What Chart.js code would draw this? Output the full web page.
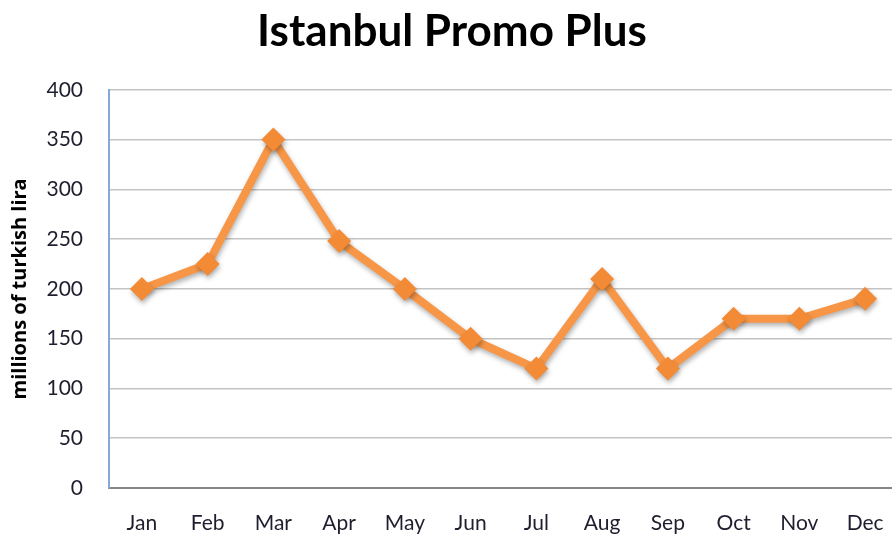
<!DOCTYPE html>
<html>
<head>
<meta charset="utf-8">
<script src="https://cdn.jsdelivr.net/npm/chart.js@4/dist/chart.umd.min.js"></script>
<style>
  html, body { margin: 0; padding: 0; background: #fff; overflow: hidden; }
  #wrap { width: 910px; height: 536px; }
</style>
</head>
<body>
<div id="wrap"><canvas id="promoChart" width="910" height="536"></canvas></div>
<script>
// ===== Data =====
const months = ["Jan", "Feb", "Mar", "Apr", "May", "Jun", "Jul", "Aug", "Sep", "Oct", "Nov", "Dec"];
const promoValues = [200, 225, 350, 248, 200, 150, 120, 210, 120, 170, 170, 190];
const yTicks = [0, 50, 100, 150, 200, 250, 300, 350, 400];

const FONT = "Lato, 'Open Sans', sans-serif";

// soft shadow under the line, like the original
const shadowPlugin = {
  id: "lineShadow",
  beforeDatasetDraw(chart) {
    const c = chart.ctx;
    c.save();
    c.shadowColor = "rgba(0,0,0,0.3)";
    c.shadowBlur = 5;
    c.shadowOffsetX = 1;
    c.shadowOffsetY = 3;
  },
  afterDatasetDraw(chart) {
    chart.ctx.restore();
  }
};

const ctx = document.getElementById("promoChart").getContext("2d");
new Chart(ctx, {
  type: "line",
  data: {
    labels: months,
    datasets: [{
      label: "Istanbul Promo Plus",
      data: promoValues,
      borderColor: "#F79646",
      backgroundColor: "#F38A35",
      borderWidth: 8,
      pointStyle: "rectRot",
      pointRadius: 12,
      pointBorderWidth: 0,
      pointBackgroundColor: "#F38A35",
      tension: 0,
      fill: false
    }]
  },
  plugins: [shadowPlugin],
  options: {
    responsive: false,
    animation: false,
    layout: { padding: { left: 0, right: 6, top: 0, bottom: 0 } },
    plugins: {
      legend: { display: false },
      tooltip: { enabled: false },
      title: {
        display: true,
        text: "Istanbul Promo Plus",
        color: "#000",
        font: { family: FONT, size: 44, weight: "bold" },
        padding: { top: 5, bottom: 32 }
      }
    },
    scales: {
      x: {
        offset: true,
        grid: { display: false, drawTicks: false },
        border: { display: true, color: "#868686", width: 2 },
        ticks: { color: "#1e1e2e", font: { family: FONT, size: 21 }, padding: 23 },
        afterFit: s => { s.height = 48; }
      },
      y: {
        min: 0,
        max: 400,
        afterBuildTicks: s => { s.ticks = yTicks.map(v => ({ value: v })); },
        grid: { color: "#C4C4C4", lineWidth: 1.5, drawTicks: false },
        border: { display: true, color: "#86A8D8", width: 2 },
        ticks: { color: "#1e1e2e", font: { family: FONT, size: 21 }, padding: 26 },
        title: {
          display: true,
          text: "millions of turkish lira",
          color: "#000",
          font: { family: "'Open Sans', sans-serif", size: 20, weight: "bold" },
          padding: { top: 8, bottom: 0 }
        },
        afterFit: s => { s.width = 109; }
      }
    }
  }
});
</script>
</body>
</html>
